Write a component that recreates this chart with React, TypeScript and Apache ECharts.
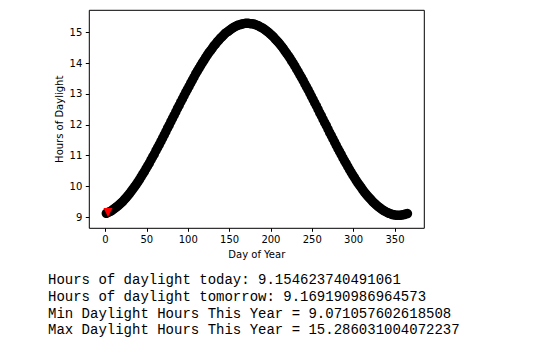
import React, { useEffect, useRef } from "react";
import * as echarts from "echarts";

// Day of year (every other day) and hours of daylight
const days: number[] = [
  1, 3, 5, 7, 9, 11, 13, 15, 17, 19,
  21, 23, 25, 27, 29, 31, 33, 35, 37, 39,
  41, 43, 45, 47, 49, 51, 53, 55, 57, 59,
  61, 63, 65, 67, 69, 71, 73, 75, 77, 79,
  81, 83, 85, 87, 89, 91, 93, 95, 97, 99,
  101, 103, 105, 107, 109, 111, 113, 115, 117, 119,
  121, 123, 125, 127, 129, 131, 133, 135, 137, 139,
  141, 143, 145, 147, 149, 151, 153, 155, 157, 159,
  161, 163, 165, 167, 169, 171, 173, 175, 177, 179,
  181, 183, 185, 187, 189, 191, 193, 195, 197, 199,
  201, 203, 205, 207, 209, 211, 213, 215, 217, 219,
  221, 223, 225, 227, 229, 231, 233, 235, 237, 239,
  241, 243, 245, 247, 249, 251, 253, 255, 257, 259,
  261, 263, 265, 267, 269, 271, 273, 275, 277, 279,
  281, 283, 285, 287, 289, 291, 293, 295, 297, 299,
  301, 303, 305, 307, 309, 311, 313, 315, 317, 319,
  321, 323, 325, 327, 329, 331, 333, 335, 337, 339,
  341, 343, 345, 347, 349, 351, 353, 355, 357, 359,
  361, 363, 365,
];
const hours: number[] = [
  9.13, 9.16, 9.18, 9.21, 9.25, 9.29, 9.33, 9.37, 9.42, 9.47,
  9.52, 9.58, 9.64, 9.7, 9.77, 9.84, 9.91, 9.99, 10.06, 10.14,
  10.22, 10.31, 10.4, 10.48, 10.58, 10.67, 10.76, 10.86, 10.96, 11.05,
  11.16, 11.26, 11.36, 11.46, 11.57, 11.67, 11.78, 11.89, 11.99, 12.1,
  12.21, 12.31, 12.42, 12.53, 12.63, 12.74, 12.84, 12.95, 13.05, 13.15,
  13.25, 13.35, 13.45, 13.55, 13.65, 13.74, 13.83, 13.92, 14.01, 14.09,
  14.18, 14.26, 14.34, 14.41, 14.48, 14.56, 14.62, 14.69, 14.75, 14.81,
  14.86, 14.92, 14.97, 15.01, 15.05, 15.09, 15.13, 15.16, 15.19, 15.22,
  15.24, 15.25, 15.27, 15.28, 15.29, 15.29, 15.29, 15.28, 15.28, 15.27,
  15.25, 15.23, 15.21, 15.18, 15.15, 15.12, 15.08, 15.04, 15.0, 14.95,
  14.9, 14.85, 14.79, 14.73, 14.67, 14.61, 14.54, 14.47, 14.39, 14.32,
  14.24, 14.16, 14.07, 13.99, 13.9, 13.81, 13.72, 13.62, 13.53, 13.43,
  13.33, 13.23, 13.13, 13.03, 12.92, 12.82, 12.71, 12.61, 12.5, 12.39,
  12.29, 12.18, 12.07, 11.97, 11.86, 11.75, 11.65, 11.54, 11.44, 11.33,
  11.23, 11.13, 11.03, 10.93, 10.83, 10.74, 10.64, 10.55, 10.46, 10.37,
  10.29, 10.2, 10.12, 10.04, 9.97, 9.89, 9.82, 9.75, 9.69, 9.63,
  9.57, 9.51, 9.46, 9.41, 9.36, 9.32, 9.28, 9.24, 9.21, 9.18,
  9.15, 9.13, 9.11, 9.09, 9.08, 9.07, 9.07, 9.07, 9.07, 9.08,
  9.09, 9.11, 9.12,
];
const todayDay = 3;
const todayHours = 9.154623740491061;

const xTicks: number[] = [0, 50, 100, 150, 200, 250, 300, 350];
const yTicks: number[] = [9, 10, 11, 12, 13, 14, 15];

const infoLines: string[] = [
  "Hours of daylight today: 9.154623740491061",
  "Hours of daylight tomorrow: 9.169190986964573",
  "Min Daylight Hours This Year = 9.071057602618508",
  "Max Daylight Hours This Year = 15.286031004072237",
];

export default function App() {
  const ref = useRef<HTMLDivElement>(null);
  useEffect(() => {
    if (!ref.current) return;
    const chart = echarts.init(ref.current, undefined, { renderer: "svg" });
    const axisFont = { fontFamily: "DejaVu Sans", fontSize: 10, color: "#000" };
    chart.setOption({
      animation: false,
      backgroundColor: "#fff",
      grid: {
        left: 89.3,
        top: 10.3,
        right: 545 - 424.3,
        bottom: 348 - 228.3,
        show: true,
        borderColor: "#000",
        borderWidth: 1,
        backgroundColor: "transparent",
      },
      xAxis: {
        type: "value",
        min: -19.6,
        max: 385.4,
        name: "Day of Year",
        nameLocation: "middle",
        nameGap: 13,
        nameTextStyle: axisFont,
        axisLine: { show: false, onZero: false },
        axisTick: {
          show: true,
          length: 3.5,
          lineStyle: { color: "#000" },
          customValues: xTicks,
        },
        axisLabel: { ...axisFont, margin: 6, customValues: xTicks },
        splitLine: { show: false },
      },
      yAxis: {
        type: "value",
        min: 8.643,
        max: 15.714,
        name: "Hours of Daylight",
        nameLocation: "middle",
        nameGap: 25,
        nameMoveOverlap: false,
        nameTextStyle: axisFont,
        axisLine: { show: false, onZero: false },
        axisTick: {
          show: true,
          length: 3.5,
          lineStyle: { color: "#000" },
          customValues: yTicks,
        },
        axisLabel: { ...axisFont, margin: 7, customValues: yTicks },
        splitLine: { show: false },
      },
      series: [
        {
          type: "scatter",
          data: days.map((d, i) => [d, hours[i]]),
          symbol: "circle",
          symbolSize: 9.5,
          itemStyle: { color: "#000", opacity: 1 },
          z: 2,
        },
        {
          type: "scatter",
          data: [[todayDay, todayHours]],
          symbol: "triangle",
          symbolRotate: 180,
          symbolSize: 9,
          itemStyle: { color: "#ff0000", opacity: 1 },
          z: 3,
        },
      ],
      graphic: infoLines.map((t, i) => ({
        type: "text",
        left: 48,
        top: 273 + i * 16.8,
        style: {
          text: t,
          fontFamily: "'Courier New', 'Liberation Mono', monospace",
          fontSize: 14,
          fill: "#000",
        },
      })),
    });
    return () => chart.dispose();
  }, []);
  return (
    <div
      ref={ref}
      style={{ position: "absolute", left: 0, top: 0, width: 545, height: 348 }}
    />
  );
}
